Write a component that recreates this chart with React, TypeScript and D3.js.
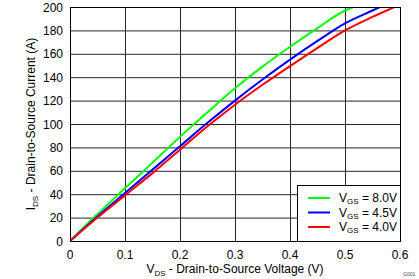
import * as d3 from "d3";
import React from "react";

// drain current (A) vs drain-source voltage (V)
const vdsGreen = [0, 0.05, 0.1, 0.15, 0.2, 0.25, 0.3, 0.35, 0.4, 0.45, 0.5, 0.515];
const idsGreen = [0, 23, 45, 67, 89, 110, 130.5, 149, 166, 182, 197, 200];
const vdsBlue = [0, 0.05, 0.1, 0.15, 0.2, 0.25, 0.3, 0.35, 0.4, 0.45, 0.5, 0.55, 0.564];
const idsBlue = [0, 21, 41, 61, 81, 101, 120, 138, 155, 171, 186, 197, 200];
const vdsRed = [0, 0.05, 0.1, 0.15, 0.2, 0.25, 0.3, 0.35, 0.4, 0.45, 0.5, 0.55, 0.59];
const idsRed = [0, 20, 39, 58, 78, 98, 116.5, 133.5, 149.5, 165, 180, 191.5, 200];

const xTicks = [0, 0.1, 0.2, 0.3, 0.4, 0.5, 0.6];
const yTicks = [0, 20, 40, 60, 80, 100, 120, 140, 160, 180, 200];

const seriesNames = ["8.0V", "4.5V", "4.0V"];
const seriesColors = ["#00ff00", "#0000ff", "#ff0000"];

const W = 419;
const H = 279;
const m = { left: 70, top: 7, right: 400, bottom: 241 };
const font = "'Liberation Sans', Arial, sans-serif";

export function App() {
  const x = d3.scaleLinear().domain([0, 0.6]).range([m.left, m.right]);
  const y = d3.scaleLinear().domain([0, 200]).range([m.bottom, m.top]);

  const line = d3
    .line<[number, number]>()
    .x((d) => x(d[0]))
    .y((d) => y(d[1]))
    .curve(d3.curveMonotoneX);

  const series = [
    d3.zip(vdsGreen, idsGreen) as [number, number][],
    d3.zip(vdsBlue, idsBlue) as [number, number][],
    d3.zip(vdsRed, idsRed) as [number, number][],
  ];

  const legX = 297;
  const legY = 185;

  return (
    <svg
      width={W}
      height={H}
      style={{ position: "absolute", left: 0, top: 0, display: "block", background: "#fff" }}
      fontFamily={font}
    >
      <defs>
        <clipPath id="plot">
          <rect x={m.left} y={m.top} width={m.right - m.left} height={m.bottom - m.top} />
        </clipPath>
      </defs>

      {/* grid */}
      {xTicks.map((t) => (
        <line key={"gx" + t} x1={x(t) + 0.5} x2={x(t) + 0.5} y1={m.top} y2={m.bottom} stroke="#262626" strokeWidth={1} />
      ))}
      {yTicks.map((t) => (
        <line key={"gy" + t} x1={m.left} x2={m.right} y1={y(t) + 0.5} y2={y(t) + 0.5} stroke="#262626" strokeWidth={1} />
      ))}

      {/* curves */}
      <g clipPath="url(#plot)">
        {series.map((s, i) => (
          <path key={i} d={line(s) || ""} fill="none" stroke={seriesColors[i]} strokeWidth={2} />
        ))}
      </g>

      <rect x={m.left + 0.5} y={m.top + 0.5} width={m.right - m.left} height={m.bottom - m.top} fill="none" stroke="#000" strokeWidth={1} />

      {/* tick labels */}
      {xTicks.map((t) => (
        <text key={"tx" + t} x={x(t)} y={259} fontSize={12} textAnchor="middle" fill="#000">
          {t === 0 ? "0" : d3.format(".1f")(t)}
        </text>
      ))}
      {yTicks.map((t) => (
        <text key={"ty" + t} x={63} y={y(t) + 4.5} fontSize={12} textAnchor="end" fill="#000">
          {t}
        </text>
      ))}

      {/* axis titles */}
      <text x={(m.left + m.right) / 2} y={273} fontSize={12} textAnchor="middle" fill="#000">
        V<tspan fontSize={8} dy={3}>DS</tspan>
        <tspan dy={-3}> - Drain-to-Source Voltage (V)</tspan>
      </text>
      <text
        transform={`translate(35, ${(m.top + m.bottom) / 2}) rotate(-90)`}
        fontSize={12}
        textAnchor="middle"
        fill="#000"
      >
        I<tspan fontSize={8} dy={3}>DS</tspan>
        <tspan dy={-3}> - Drain-to-Source Current (A)</tspan>
      </text>

      {/* legend */}
      <rect x={legX + 0.5} y={legY + 0.5} width={m.right - legX} height={m.bottom - legY} fill="#fff" stroke="#000" strokeWidth={1} />
      {seriesNames.map((n, i) => {
        const ry = 198 + i * 14.5;
        return (
          <g key={n}>
            <line x1={308} x2={330} y1={ry} y2={ry} stroke={seriesColors[i]} strokeWidth={2} />
            <text x={339} y={ry + 4} fontSize={12} fill="#000">
              V<tspan fontSize={8} dy={2}>GS</tspan>
              <tspan dy={-2}> = {n}</tspan>
            </text>
          </g>
        );
      })}

      <text x={403} y={276} fontSize={5} fill="#444">G001</text>
    </svg>
  );
}

export default App;
